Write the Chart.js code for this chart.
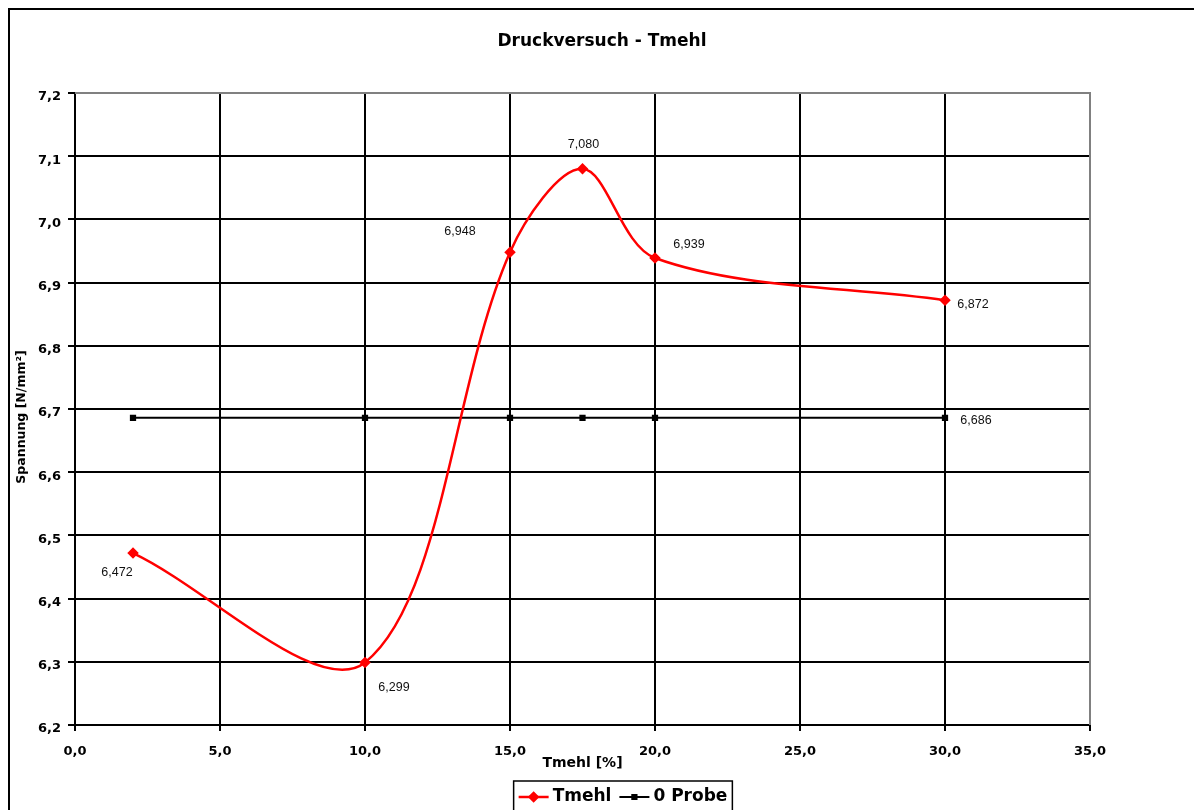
<!DOCTYPE html>
<html lang="de">
<head>
<meta charset="utf-8">
<title>Druckversuch - Tmehl</title>
<script src="https://cdn.jsdelivr.net/npm/chart.js@4.4.1/dist/chart.umd.min.js"></script>
<style>
  html, body { margin: 0; padding: 0; background: #fff; }
  #wrap { position: relative; width: 1194px; height: 810px; }
</style>
</head>
<body>
<div id="wrap"><canvas id="chart"></canvas></div>
<script>
// Tmehl content in percent (x) and measured compressive stress in N/mm² (y)
const tmehlX      = [2, 10, 15, 17.5, 20, 30];
const tmehlStress = [6.472, 6.299, 6.948, 7.080, 6.939, 6.872];

// Reference sample without Tmehl, drawn across the same x positions
const probeX      = [2, 10, 15, 17.5, 20, 30];
const probeStress = [6.686, 6.686, 6.686, 6.686, 6.686, 6.686];

// Which points carry a value label (only the last one on the reference line)
const probeLabelShown = [false, false, false, false, false, true];

// Axis ranges and tick steps
const xTicks = [0, 5, 10, 15, 20, 25, 30, 35];
const yTicks = [6.2, 6.3, 6.4, 6.5, 6.6, 6.7, 6.8, 6.9, 7.0, 7.1, 7.2];

const seriesNames = ['Tmehl', '0 Probe'];
const chartTitle = 'Druckversuch - Tmehl';
const xTitle = 'Tmehl [%]';
const yTitle = 'Spannung [N/mm²]';

// Label placement relative to each point, in pixels
const tmehlLabelOffsets = [[-16, 19], [29, 25], [-50, -21], [1, -24], [34, -13], [28, 4]];
const probeLabelOffsets = [[0, 0], [0, 0], [0, 0], [0, 0], [0, 0], [31, 3]];

const fmt = (v, d) => v.toFixed(d).replace('.', ',');

const BOLD = 'DejaVu Sans';

// Value labels next to the points
const valueLabels = {
  id: 'valueLabels',
  afterDatasetsDraw(chart) {
    const ctx = chart.ctx;
    ctx.save();
    ctx.font = '12.5px "Liberation Sans", Arial, sans-serif';
    ctx.fillStyle = '#111';
    ctx.textAlign = 'center';
    ctx.textBaseline = 'middle';
    chart.data.datasets.forEach((ds, di) => {
      const meta = chart.getDatasetMeta(di);
      meta.data.forEach((pt, i) => {
        if (ds.labelShown && !ds.labelShown[i]) return;
        const off = ds.labelOffsets[i];
        ctx.fillText(fmt(ds.data[i].y, 3), pt.x + off[0], pt.y + off[1]);
      });
    });
    ctx.restore();
  }
};

// Titles, plot-area frame, outer chart border and the boxed legend
const frame = {
  id: 'frame',
  beforeDatasetsDraw(chart) {
    const { ctx, chartArea: a } = chart;
    ctx.save();
    ctx.strokeStyle = '#808080';
    ctx.lineWidth = 2;
    ctx.beginPath();
    ctx.moveTo(a.left, a.top);
    ctx.lineTo(a.right, a.top);
    ctx.lineTo(a.right, a.bottom);
    ctx.stroke();
    ctx.restore();
  },
  afterDraw(chart) {
    const ctx = chart.ctx;
    ctx.save();
    ctx.strokeStyle = '#000';
    ctx.lineWidth = 2;
    ctx.strokeRect(9, 9, 1200, 820);

    // chart title
    ctx.fillStyle = '#000';
    ctx.font = 'bold 17px "' + BOLD + '", sans-serif';
    ctx.textAlign = 'center';
    ctx.textBaseline = 'middle';
    ctx.fillText(chartTitle, 602, 42);

    // y axis title
    ctx.save();
    ctx.translate(22, 417);
    ctx.rotate(-Math.PI / 2);
    ctx.font = 'bold 12.5px "' + BOLD + '", sans-serif';
    ctx.fillText(yTitle, 0, 0);
    ctx.restore();

    // legend
    ctx.font = 'bold 17px "' + BOLD + '", sans-serif';
    ctx.textBaseline = 'middle';
    ctx.textAlign = 'left';
    const cy = 797;
    const lineLen = 30, gap = 4, itemGap = 8, pad = 5;
    const widths = chart.data.datasets.map(ds => lineLen + gap + ctx.measureText(ds.label).width);
    const total = widths.reduce((s, w) => s + w, 0) + itemGap * (widths.length - 1) + pad * 2;
    let x = 623 - total / 2;
    ctx.strokeStyle = '#000';
    ctx.lineWidth = 1.5;
    ctx.strokeRect(x, 781, total, 40);
    x += pad;
    chart.data.datasets.forEach((ds, i) => {
      ctx.strokeStyle = ds.borderColor;
      ctx.lineWidth = ds.borderWidth;
      ctx.beginPath();
      ctx.moveTo(x, cy);
      ctx.lineTo(x + lineLen, cy);
      ctx.stroke();
      ctx.fillStyle = ds.pointBackgroundColor;
      ctx.strokeStyle = ds.pointBorderColor;
      Chart.helpers.drawPoint(ctx, {
        pointStyle: ds.pointStyle, radius: ds.pointRadius, borderWidth: 1, rotation: 0
      }, x + lineLen / 2, cy);
      ctx.fillStyle = '#000';
      ctx.fillText(ds.label, x + lineLen + gap, cy);
      x += widths[i] + itemGap;
    });
    ctx.restore();
  }
};

const axisFont = { family: BOLD, size: 13, weight: 'bold' };

new Chart(document.getElementById('chart'), {
  type: 'line',
  data: {
    datasets: [
      {
        label: seriesNames[0],
        data: tmehlX.map((x, i) => ({ x, y: tmehlStress[i] })),
        borderColor: '#ff0000',
        backgroundColor: '#ff0000',
        pointBackgroundColor: '#ff0000',
        pointBorderColor: '#ff0000',
        borderWidth: 2.5,
        pointStyle: 'rectRot',
        pointRadius: 4,
        tension: 0.33,
        labelOffsets: tmehlLabelOffsets
      },
      {
        label: seriesNames[1],
        data: probeX.map((x, i) => ({ x, y: probeStress[i] })),
        borderColor: '#000000',
        backgroundColor: '#000000',
        pointBackgroundColor: '#000000',
        pointBorderColor: '#000000',
        borderWidth: 2,
        pointStyle: 'rect',
        pointRadius: 3,
        tension: 0,
        labelShown: probeLabelShown,
        labelOffsets: probeLabelOffsets
      }
    ]
  },
  options: {
    responsive: true,
    maintainAspectRatio: false,
    animation: false,
    layout: { autoPadding: false, padding: { left: 10, right: 104, top: 93, bottom: 39 } },
    plugins: {
      legend: { display: false },
      tooltip: { enabled: false },
      title: { display: false }
    },
    scales: {
      x: {
        type: 'linear',
        min: xTicks[0],
        max: xTicks[xTicks.length - 1],
        afterBuildTicks: s => { s.ticks = xTicks.map(v => ({ value: v })); },
        afterFit: s => { s.height = 46; },
        ticks: { color: '#000', font: axisFont, padding: 13, maxRotation: 0, callback: v => fmt(v, 1) },
        grid: { color: '#000', lineWidth: 2, tickLength: 6, drawTicks: true },
        border: { color: '#000', width: 2 },
        title: { display: true, text: xTitle, color: '#000', font: { family: BOLD, size: 14, weight: 'bold' }, padding: { top: 0, bottom: -1 } }
      },
      y: {
        type: 'linear',
        min: yTicks[0],
        max: yTicks[yTicks.length - 1],
        afterBuildTicks: s => { s.ticks = yTicks.map(v => ({ value: v })); },
        afterFit: s => { s.width = 65; },
        ticks: { color: '#000', font: axisFont, padding: 7, labelOffset: 4, callback: v => fmt(v, 1) },
        grid: { color: '#000', lineWidth: 2, tickLength: 7, drawTicks: true },
        border: { color: '#000', width: 2 },
        title: { display: false }
      }
    }
  },
  plugins: [frame, valueLabels]
});
</script>
</body>
</html>
